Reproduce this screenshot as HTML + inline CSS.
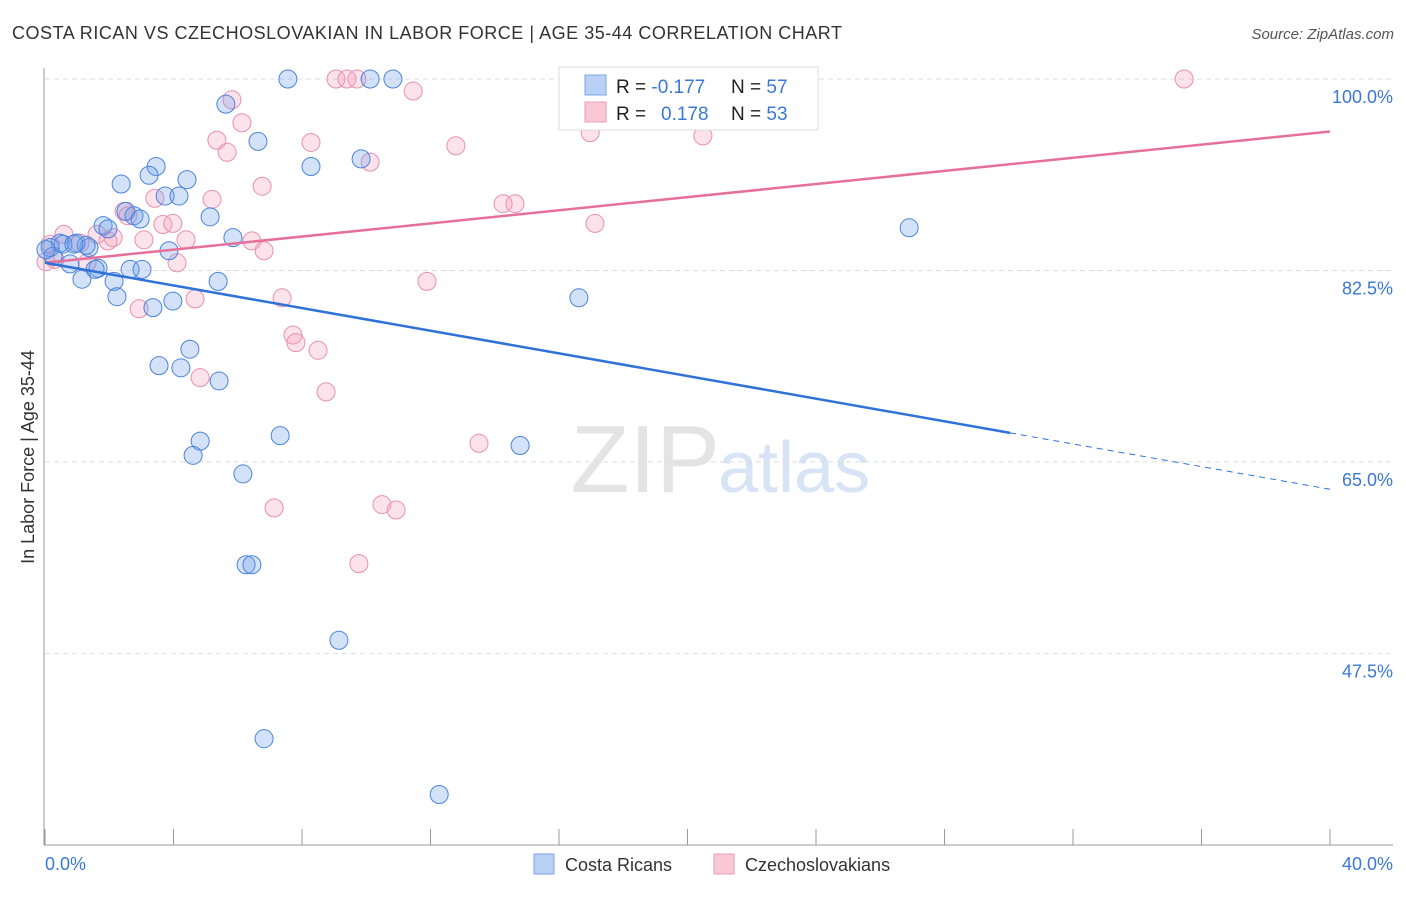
<!DOCTYPE html>
<html><head><meta charset="utf-8"><style>
body{margin:0;background:#fff;font-family:"Liberation Sans",sans-serif}
svg text{font-family:"Liberation Sans",sans-serif}
</style></head><body>
<svg id="chart" width="1406" height="892" xmlns="http://www.w3.org/2000/svg">
<text x="12" y="39" font-size="18" fill="#333" textLength="830" lengthAdjust="spacing">COSTA RICAN VS CZECHOSLOVAKIAN IN LABOR FORCE | AGE 35-44 CORRELATION CHART</text>
<text x="1394" y="39" font-size="15" fill="#555" font-style="italic" text-anchor="end">Source: ZipAtlas.com</text>
<text x="720" y="492" font-size="96" fill="#e4e4e4" text-anchor="end" font-family="Liberation Serif">ZIP</text>
<text x="718" y="492" font-size="72" fill="#d6e4f5">atlas</text>
<g id="grid"></g>
<g id="axes"></g>
<g id="points"></g>
<g id="lines"></g>
<text transform="translate(34,457) rotate(-90)" font-size="18" fill="#333" text-anchor="middle">In Labor Force | Age 35-44</text>
<text x="45" y="870" font-size="18" fill="#3a78d8">0.0%</text>
<text x="1393" y="870" font-size="18" fill="#3a78d8" text-anchor="end">40.0%</text>
<g>
<rect x="559" y="67" width="259" height="63" fill="#fff" stroke="#ddd"/>
<rect x="585" y="75" width="21" height="20" fill="#b9d1f5" stroke="#7aa5e6"/>
<rect x="585" y="102" width="21" height="20" fill="#f9c8d7" stroke="#ee9db6"/>
<text x="616" y="93" font-size="19" fill="#222">R = <tspan fill="#3a78d8">-0.177</tspan><tspan x="731">N = </tspan><tspan fill="#3a78d8">57</tspan></text>
<text x="616" y="120" font-size="19" fill="#222">R = <tspan x="661" fill="#3a78d8">0.178</tspan><tspan x="731">N = </tspan><tspan fill="#3a78d8">53</tspan></text>
</g>
<g>
<rect x="534" y="854" width="20" height="20" fill="#b9d1f5" stroke="#7aa5e6"/>
<text x="565" y="871" font-size="18" fill="#333">Costa Ricans</text>
<rect x="714" y="854" width="20" height="20" fill="#f9c8d7" stroke="#ee9db6"/>
<text x="745" y="871" font-size="18" fill="#333">Czechoslovakians</text>
</g>
</svg>
<script>
const yTicks=[100,82.5,65,47.5];
const xTicks=[0,4,8,12,16,20,24,28,32,36,40];
const blueX=[7.56,10.12,10.83,5.63,6.63,3.46,3.24,4.42,2.37,8.28,9.84,3.74,4.17,5.14,2.52,2.77,2.96,1.81,1.96,5.85,3.86,1.37,0.97,0.47,0.16,0.25,0.78,1.65,1.56,1.15,2.65,3.02,2.15,5.39,2.24,3.98,3.36,16.62,26.9,4.51,3.55,4.23,5.42,4.83,7.32,4.61,6.16,14.79,6.26,6.44,9.15,6.82,12.27,0.03,0.56,1.28,0.9];
const blueY=[100,100,100,97.7,94.3,92.0,91.2,90.8,90.4,92.0,92.7,89.3,89.3,87.4,87.9,87.5,87.2,86.6,86.3,85.5,84.3,84.6,85.0,85.0,84.6,83.8,83.1,82.7,82.6,81.7,82.6,82.6,81.5,81.5,80.1,79.7,79.1,80.0,86.4,75.3,73.8,73.6,72.4,66.9,67.4,65.6,63.9,66.5,55.6,55.6,48.7,39.7,34.6,84.4,84.9,84.8,84.9];
const pinkX=[9.06,9.40,9.71,16.59,35.46,11.46,5.82,6.13,5.35,5.67,8.28,10.12,12.79,16.97,20.48,6.76,5.20,3.42,2.46,2.58,3.67,3.98,4.39,3.08,2.12,1.62,0.59,1.09,0.16,0.31,6.44,6.82,4.11,14.26,14.63,17.12,11.89,4.67,7.38,2.93,7.72,7.81,8.50,4.83,8.75,13.51,7.13,10.49,10.93,9.77,1.96,1.31,0.03];
const pinkY=[100,100,100,100,100,98.9,98.1,96.0,94.4,93.3,94.2,92.4,93.9,95.1,94.8,90.2,89.0,89.1,87.9,87.5,86.7,86.8,85.3,85.3,85.5,85.8,85.8,85.0,84.9,83.5,85.2,84.3,83.2,88.6,88.6,86.8,81.5,79.9,80.0,79.0,76.6,75.9,75.2,72.7,71.4,66.7,60.8,61.1,60.6,55.7,85.2,83.2,83.3];
const blueTrend=[83.2,62.5];
const pinkTrend=[83.2,95.2];
const blueSolidEnd=30.04;
const X0=45,X1=1330,XMAX=40,Y100=79,PXPER=10.94;
function sx(v){return X0+(v/XMAX)*(X1-X0);}
function sy(v){return Y100+(100-v)*PXPER;}
const NS="http://www.w3.org/2000/svg";
function mk(tag,attrs,parent){const e=document.createElementNS(NS,tag);for(const k in attrs)e.setAttribute(k,attrs[k]);parent.appendChild(e);return e;}
const grid=document.getElementById('grid'),axes=document.getElementById('axes'),pts=document.getElementById('points'),lines=document.getElementById('lines');
yTicks.forEach(t=>{
 const l=mk('line',{x1:45,x2:1393,y1:sy(t),y2:sy(t),stroke:'#ddd','stroke-dasharray':'5,4'},grid);
 
 
 const tx=mk('text',{x:1393,y:sy(t)+24,'font-size':18,fill:'#3a78d8','text-anchor':'end'},grid);
 tx.textContent=t.toFixed(1)+'%';
 
 
});
const ya=mk('line',{x1:44,x2:44,y1:68,y2:845,stroke:'#999'},axes);


const xa=mk('line',{x1:44,x2:1393,y1:845,y2:845,stroke:'#999'},axes);


xTicks.forEach(t=>{
 const l=mk('line',{x1:sx(t),x2:sx(t),y1:829,y2:845,stroke:'#999'},axes);
 
 
});
function dots(xs,ys,fill,stroke,name){
 xs.forEach((x,i)=>{
  const c=mk('circle',{cx:sx(x),cy:sy(ys[i]),r:9,fill:fill,stroke:stroke,'stroke-width':1},pts);
  
  
 });
}
dots(pinkX,pinkY,'rgba(246,160,190,0.3)','#e990ad','czechoslovakian-point');
dots(blueX,blueY,'rgba(110,160,235,0.3)','#4a84dc','costa-rican-point');
function ty(tr,x){return tr[0]+(tr[1]-tr[0])*x/XMAX;}
const pl=mk('line',{x1:sx(0),y1:sy(ty(pinkTrend,0)),x2:sx(40),y2:sy(ty(pinkTrend,40)),stroke:'#e5709a','stroke-width':2.5},lines);


const bl=mk('line',{x1:sx(0),y1:sy(ty(blueTrend,0)),x2:sx(blueSolidEnd),y2:sy(ty(blueTrend,blueSolidEnd)),stroke:'#2f72d8','stroke-width':2.5},lines);


const bd=mk('line',{x1:sx(blueSolidEnd),y1:sy(ty(blueTrend,blueSolidEnd)),x2:sx(40),y2:sy(ty(blueTrend,40)),stroke:'#2f72d8','stroke-width':1,'stroke-dasharray':'6,5'},lines);


</script>
</body></html>
